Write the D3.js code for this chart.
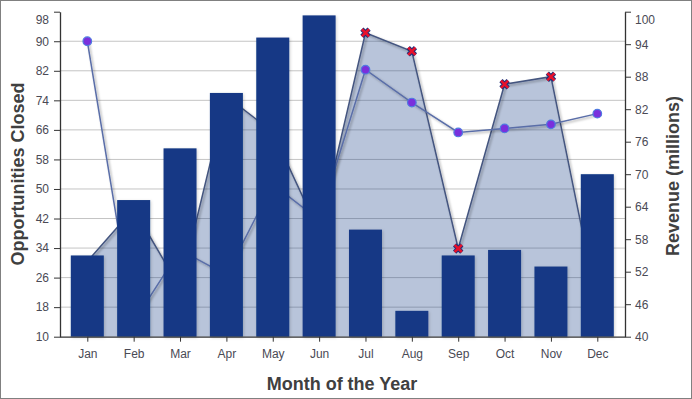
<!DOCTYPE html>
<html><head><meta charset="utf-8">
<script src="https://cdn.jsdelivr.net/npm/d3@7"></script>
<style>
html,body{margin:0;padding:0;background:#fff;}
svg{display:block;font-family:"Liberation Sans",Arial,sans-serif;}
</style></head>
<body><svg id="c" width="692" height="399"></svg>
<script>
const months = ["Jan","Feb","Mar","Apr","May","Jun","Jul","Aug","Sep","Oct","Nov","Dec"];
const opportunities = [32, 47, 61, 76, 91, 97, 39, 17, 32, 33.5, 29, 54];
const revenue = [53.9, 63.6, 49, 84.4, 77.8, 59.3, 96.1, 92.7, 56.3, 86.6, 88, 45.9];
const trend = [90, 14, 33.5, 26.7, 51.3, 41.6, 82.3, 73.4, 65.3, 66.4, 67.5, 70.4];
const leftTicks = [10, 18, 26, 34, 42, 50, 58, 66, 74, 82, 90, 98];
const rightTicks = [40, 46, 52, 58, 64, 70, 76, 82, 88, 94, 100];
const xMarkerMonths = ["Jul","Aug","Sep","Oct","Nov"];

const svg = d3.select("#c");
const L = 60, R = 625, T = 11.7, B = 336.7;

const defs = svg.append("defs");
const f1 = defs.append("filter").attr("id","sh").attr("x","-20%").attr("y","-20%").attr("width","140%").attr("height","140%");
f1.append("feDropShadow").attr("dx",1.5).attr("dy",1.5).attr("stdDeviation",1.2).attr("flood-color","#000").attr("flood-opacity",0.35);
const f2 = defs.append("filter").attr("id","bsh").attr("x","-20%").attr("y","-20%").attr("width","140%").attr("height","140%");
f2.append("feDropShadow").attr("dx",1).attr("dy",1).attr("stdDeviation",1.5).attr("flood-color","#000").attr("flood-opacity",0.18);

// border
svg.append("rect").attr("x",0.5).attr("y",0.5).attr("width",691).attr("height",398)
  .attr("fill","#fff").attr("stroke","#808080").attr("stroke-width",1);

const x = d3.scalePoint().domain(months).range([87.3, 597.3]);
const yL = d3.scaleLinear().domain([10, 98]).range([B, T]);
const yR = d3.scaleLinear().domain([40, 100]).range([B, T]);

// gridlines
svg.append("g").selectAll("line").data(leftTicks.filter(t => t > 10 && t < 98)).join("line")
  .attr("x1", L).attr("x2", R).attr("y1", d => yL(d)).attr("y2", d => yL(d))
  .attr("stroke", "#c4c4c4").attr("stroke-width", 1);

// area (revenue)
const area = d3.area().x((d,i) => x(months[i])).y0(B).y1(d => yR(d));
svg.append("path").datum(revenue).attr("d", area).attr("fill", "#143b86").attr("fill-opacity", 0.3);
const areaLine = d3.line().x((d,i) => x(months[i])).y(d => yR(d));
svg.append("path").datum(revenue).attr("d", areaLine).attr("fill","none")
  .attr("stroke","#44557f").attr("stroke-width",1.5).attr("filter","url(#sh)");

// trend line
const tLine = d3.line().x((d,i) => x(months[i])).y(d => yL(d));
svg.append("path").datum(trend).attr("d", tLine).attr("fill","none")
  .attr("stroke","#5a6ea8").attr("stroke-width",1.5).attr("filter","url(#sh)");

// X markers on revenue
const xm = svg.append("g");
revenue.forEach((v,i) => {
  if (!xMarkerMonths.includes(months[i])) return;
  const cx = x(months[i]), cy = yR(v), s = 3.6;
  const d = `M${cx-s},${cy-s}L${cx+s},${cy+s}M${cx-s},${cy+s}L${cx+s},${cy-s}`;
  xm.append("path").attr("d", d).attr("stroke","#1e2f7a").attr("stroke-width",4.6).attr("fill","none");
  xm.append("path").attr("d", d).attr("stroke","#e8102a").attr("stroke-width",2.6).attr("fill","none");
});

// circle markers
svg.append("g").selectAll("circle").data(trend).join("circle")
  .attr("cx", (d,i) => x(months[i])).attr("cy", d => yL(d)).attr("r", 4.3)
  .attr("fill", "#7a30dc").attr("stroke", "#4f7be0").attr("stroke-width", 1.2);

// bars
const bw = 33;
svg.append("g").selectAll("rect").data(opportunities).join("rect")
  .attr("x", (d,i) => x(months[i]) - bw/2).attr("width", bw)
  .attr("y", d => yL(d)).attr("height", d => B - yL(d))
  .attr("fill", "#143985").attr("filter","url(#bsh)");

// axes
const axCol = "#333";
const gl = svg.append("g").attr("transform", `translate(${L},0)`)
  .call(d3.axisLeft(yL).tickValues(leftTicks).tickSize(6).tickPadding(5).tickSizeOuter(0));
const gr = svg.append("g").attr("transform", `translate(${R},0)`)
  .call(d3.axisRight(yR).tickValues(rightTicks).tickSize(6).tickPadding(4).tickSizeOuter(0));
const gx = svg.append("g").attr("transform", `translate(0,${B})`)
  .call(d3.axisBottom(x).tickSize(5).tickPadding(8).tickSizeOuter(0));
gx.select(".domain").attr("d", `M${L},0.5H${R}`);
[gl, gr, gx].forEach(g => {
  g.select(".domain").attr("stroke", axCol).attr("stroke-width", 1.3);
  g.selectAll(".tick line").attr("stroke", axCol);
  g.selectAll(".tick text").attr("fill", "#4a4a55").attr("font-size", 12)
    .attr("font-family", '"Liberation Sans",Arial,sans-serif');
});
gl.selectAll(".tick text").filter(d => d === 98).attr("dy", "0.95em");
gr.selectAll(".tick text").filter(d => d === 100).attr("dy", "0.95em");

// titles
svg.append("text").attr("x", 342).attr("y", 390).attr("text-anchor","middle")
  .attr("font-size", 18).attr("font-weight","bold").attr("fill","#404040").text("Month of the Year");
svg.append("text").attr("transform","translate(24,174) rotate(-90)").attr("text-anchor","middle")
  .attr("font-size", 18).attr("font-weight","bold").attr("fill","#404040").text("Opportunities Closed");
svg.append("text").attr("transform","translate(679,176) rotate(-90)").attr("text-anchor","middle")
  .attr("font-size", 18).attr("font-weight","bold").attr("fill","#404040").text("Revenue (millions)");
</script></body></html>
